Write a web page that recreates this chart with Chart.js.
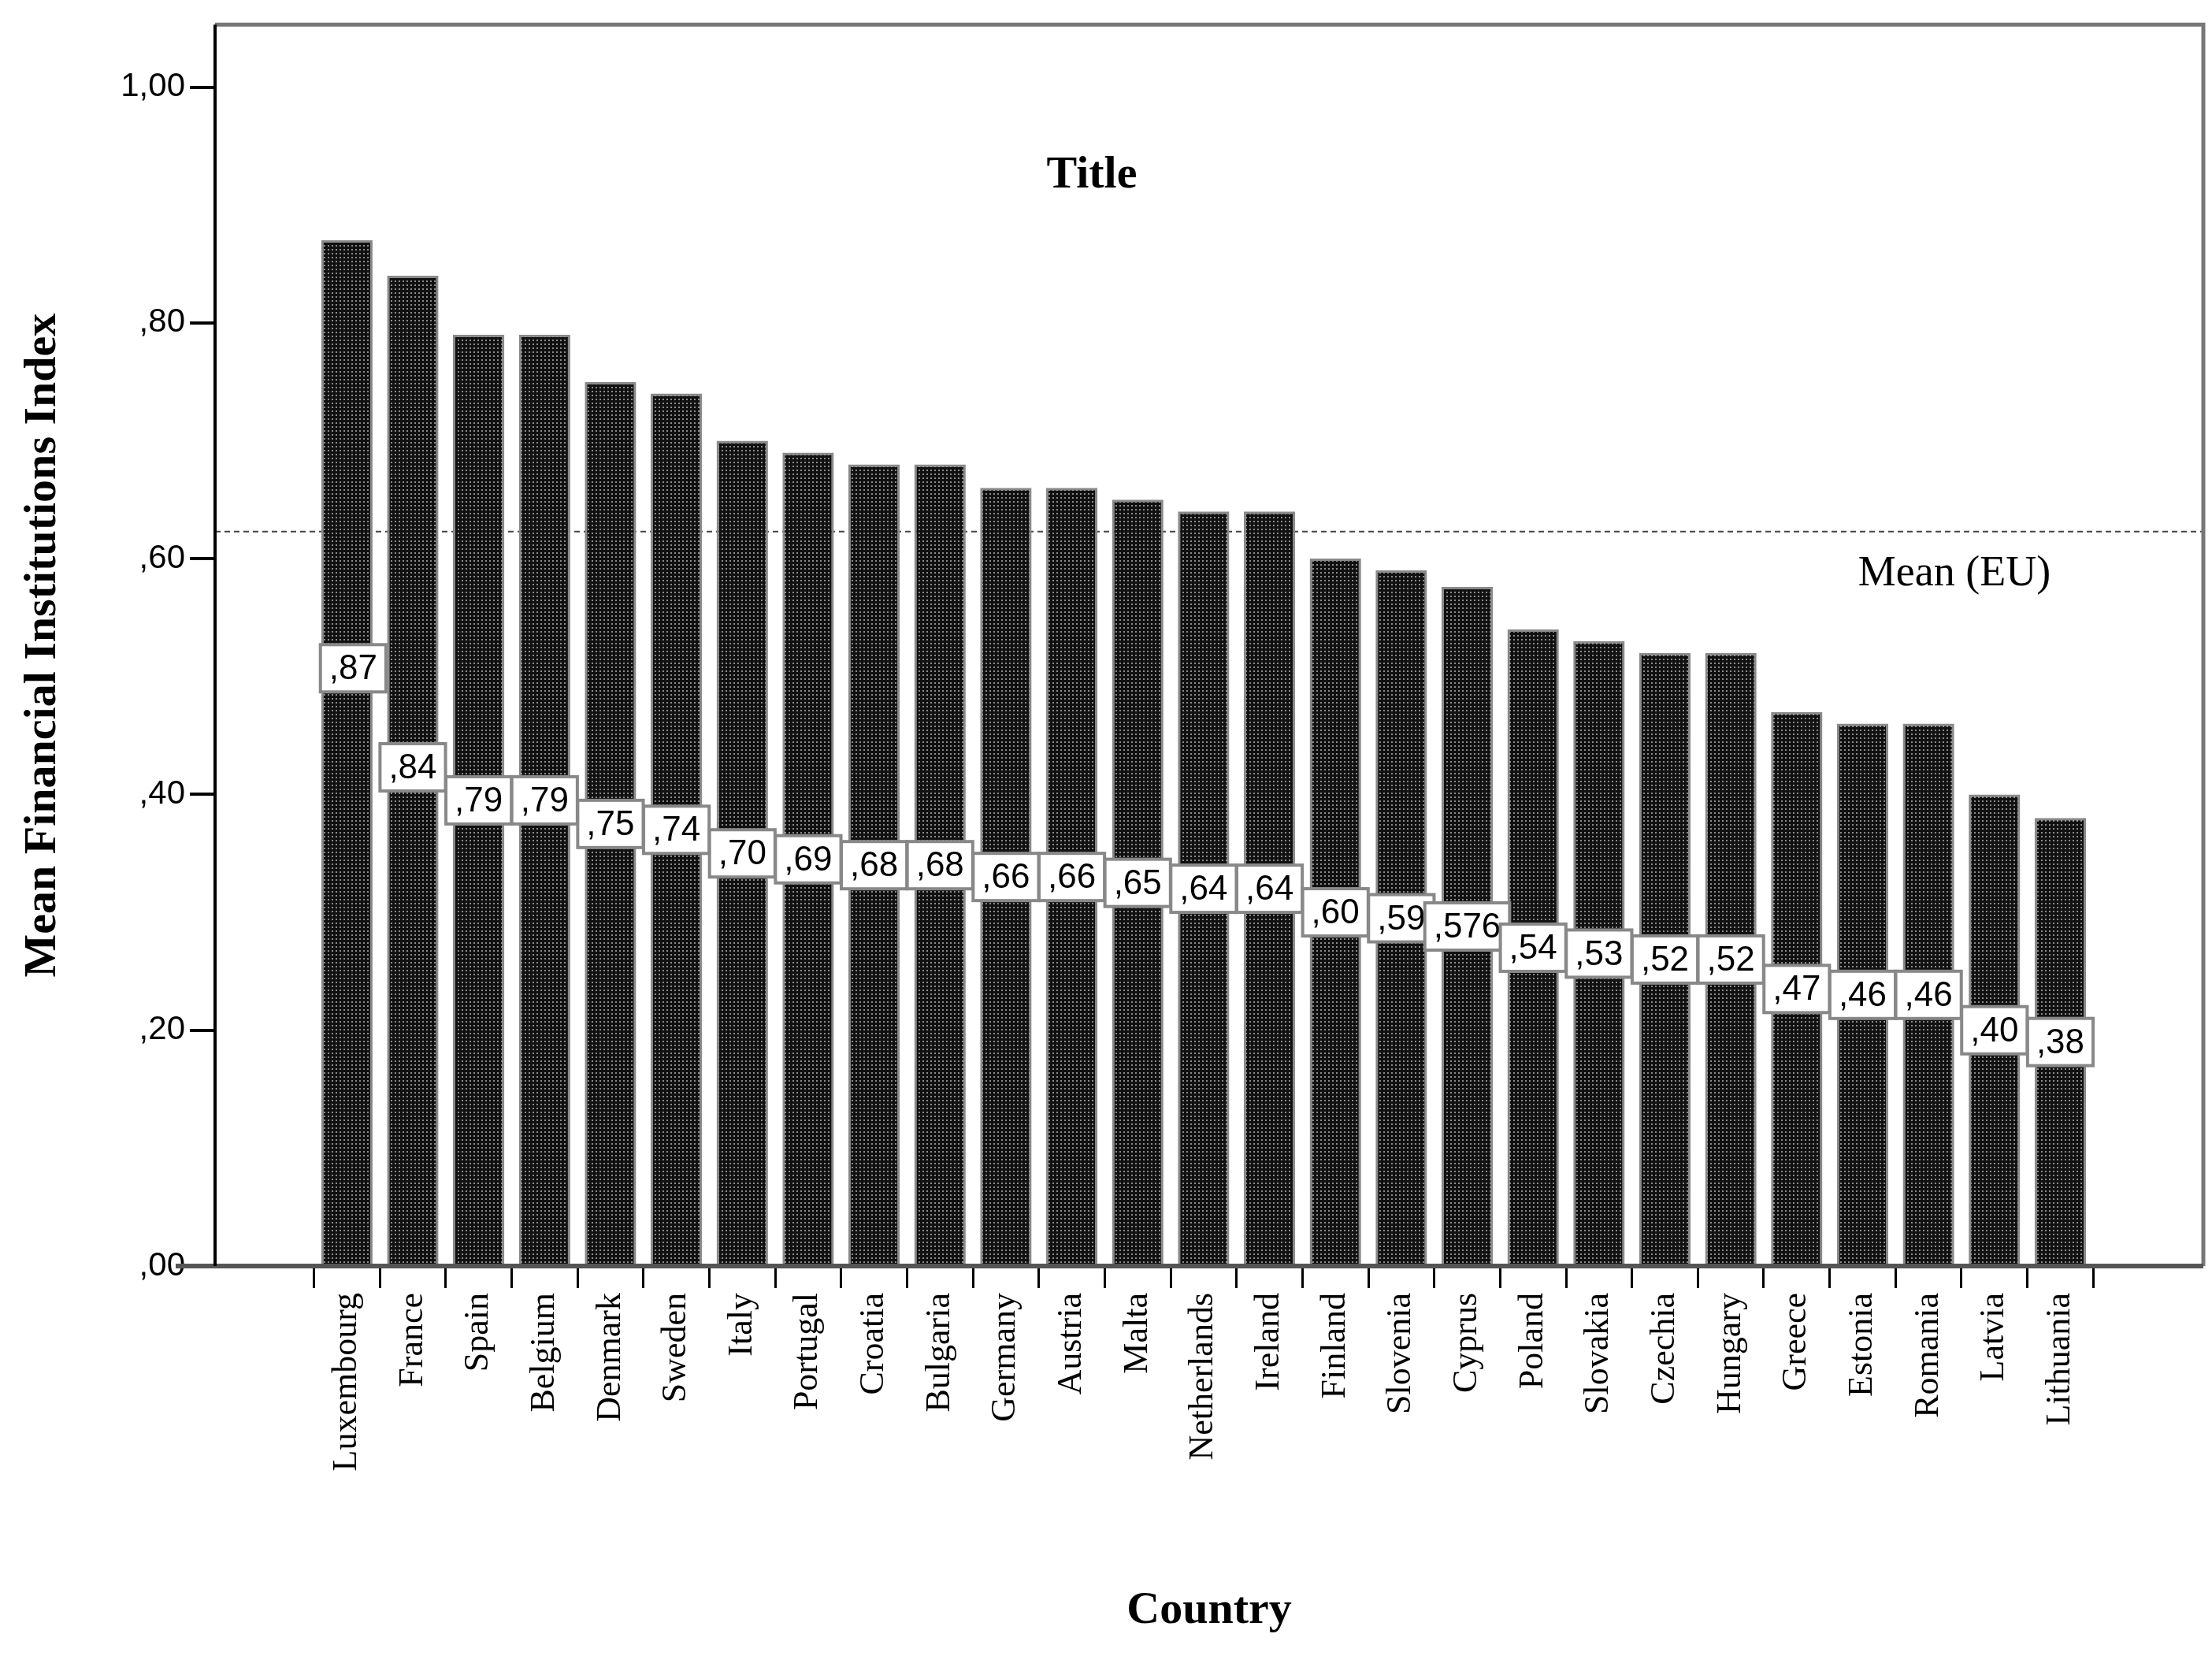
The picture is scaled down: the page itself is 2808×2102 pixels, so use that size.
<!DOCTYPE html>
<html><head><meta charset="utf-8">
<script src="https://cdn.jsdelivr.net/npm/chart.js@4/dist/chart.umd.min.js"></script>
<style>html,body{margin:0;padding:0;background:#fff}#wrap{width:2808px;height:2102px}</style>
</head><body><div id="wrap"><canvas id="c" width="2808" height="2102"></canvas></div>
<script>
const countries = ["Luxembourg","France","Spain","Belgium","Denmark","Sweden","Italy","Portugal","Croatia","Bulgaria","Germany","Austria","Malta","Netherlands","Ireland","Finland","Slovenia","Cyprus","Poland","Slovakia","Czechia","Hungary","Greece","Estonia","Romania","Latvia","Lithuania"];
const values = [0.87,0.84,0.79,0.79,0.75,0.74,0.70,0.69,0.68,0.68,0.66,0.66,0.65,0.64,0.64,0.60,0.59,0.576,0.54,0.53,0.52,0.52,0.47,0.46,0.46,0.40,0.38];
const valueLabels = [",87",",84",",79",",79",",75",",74",",70",",69",",68",",68",",66",",66",",65",",64",",64",",60",",59",",576",",54",",53",",52",",52",",47",",46",",46",",40",",38"];
const yTicks = [0,0.2,0.4,0.6,0.8,1.0];
const yTickLabels = [",00",",20",",40",",60",",80","1,00"];
const euMean = 0.623;

const pc = document.createElement('canvas'); pc.width = 5; pc.height = 5;
const px = pc.getContext('2d'); px.fillStyle = '#111'; px.fillRect(0,0,5,5);
px.fillStyle = '#8a8a8a'; px.fillRect(1,1,2,2);
const ctx = document.getElementById('c').getContext('2d');
const pattern = ctx.createPattern(pc,'repeat');

const serif = '"Liberation Serif","DejaVu Serif",serif';
const sans = '"Liberation Sans","DejaVu Sans",sans-serif';

const deco = {
  id:'deco',
  beforeDatasetsDraw(chart){
    const {ctx,chartArea:a,scales:{y}} = chart;
    ctx.save();
    ctx.strokeStyle='#444'; ctx.lineWidth=2; ctx.setLineDash([7,5]);
    const my = y.getPixelForValue(euMean);
    ctx.beginPath(); ctx.moveTo(a.left,my); ctx.lineTo(a.right,my); ctx.stroke();
    ctx.restore();
  },
  afterDatasetsDraw(chart){
    const {ctx,chartArea:a,scales:{x,y}} = chart;
    ctx.save();
    // frame
    ctx.strokeStyle='#777'; ctx.lineWidth=5;
    ctx.beginPath(); ctx.moveTo(a.left,a.top); ctx.lineTo(a.right,a.top); ctx.lineTo(a.right,a.bottom); ctx.stroke();
    ctx.strokeStyle='#555'; ctx.lineWidth=6;
    ctx.beginPath(); ctx.moveTo(a.left-50,a.bottom); ctx.lineTo(a.right,a.bottom); ctx.stroke();
    ctx.strokeStyle='#000'; ctx.lineWidth=4;
    ctx.beginPath(); ctx.moveTo(a.left,a.top); ctx.lineTo(a.left,a.bottom); ctx.stroke();
    // title & mean label
    ctx.fillStyle='#000'; ctx.textAlign='center'; ctx.textBaseline='middle';
    ctx.font='bold 58px '+serif; ctx.fillText('Title',1386,223);
    ctx.font='54px '+serif; ctx.fillText('Mean (EU)',2481,729);
    // value labels
    ctx.font='44px '+sans;
    values.forEach((v,i)=>{
      let lv = v/2;
      if(i===0) lv = 0.507;
      if(i===1) lv = 0.423;
      const cx = x.getPixelForValue(i) + (i===0?8:0);
      const cy = y.getPixelForValue(lv);
      const w = ctx.measureText(valueLabels[i]).width + 22, h = 60;
      ctx.fillStyle='#fff'; ctx.fillRect(cx-w/2,cy-h/2,w,h);
      ctx.strokeStyle='#888'; ctx.lineWidth=4; ctx.strokeRect(cx-w/2,cy-h/2,w,h);
      ctx.fillStyle='#000'; ctx.fillText(valueLabels[i],cx,cy+2);
    });
    ctx.restore();
  }
};

new Chart(ctx,{
  type:'bar',
  data:{datasets:[{data:values.map((v,i)=>({x:i,y:v})),backgroundColor:pattern,borderColor:'#8a8a8a',borderWidth:3,barPercentage:0.78,categoryPercentage:1}]},
  options:{
    responsive:false,animation:false,devicePixelRatio:1,
    layout:{padding:{top:26,right:11,left:0,bottom:0}},
    plugins:{legend:{display:false},tooltip:{enabled:false}},
    scales:{
      x:{type:'linear',min:-2.0,max:28.17,offset:false,
        afterBuildTicks(s){s.ticks=countries.map((c,i)=>({value:i}));},
        afterFit(s){s.height=495;},
        grid:{drawOnChartArea:false,drawTicks:true,tickLength:28,color:'#000',lineWidth:3},
        border:{display:false},
        ticks:{autoSkip:false,minRotation:90,maxRotation:90,padding:6,color:'#000',font:{family:serif,size:44},callback:(v)=>countries[v]??''},
        title:{display:true,text:'Country',color:'#000',font:{family:serif,size:58,weight:'bold'},padding:{top:10,bottom:22}}
      },
      y:{min:0,max:1.053,
        afterBuildTicks(s){s.ticks=yTicks.map(v=>({value:v}));},
        afterFit(s){s.width=273;},
        grid:{drawOnChartArea:false,drawTicks:true,tickLength:32,color:'#000',lineWidth:4},
        border:{display:false},
        ticks:{padding:6,color:'#000',font:{family:sans,size:42},callback:(v)=>{const k=yTicks.indexOf(v);return k>=0?yTickLabels[k]:'';}},
        title:{display:true,text:'Mean Financial Institutions Index',color:'#000',font:{family:serif,size:58,weight:'bold'},padding:{top:20,bottom:0}}
      }
    }
  },
  plugins:[deco]
});
</script></body></html>
